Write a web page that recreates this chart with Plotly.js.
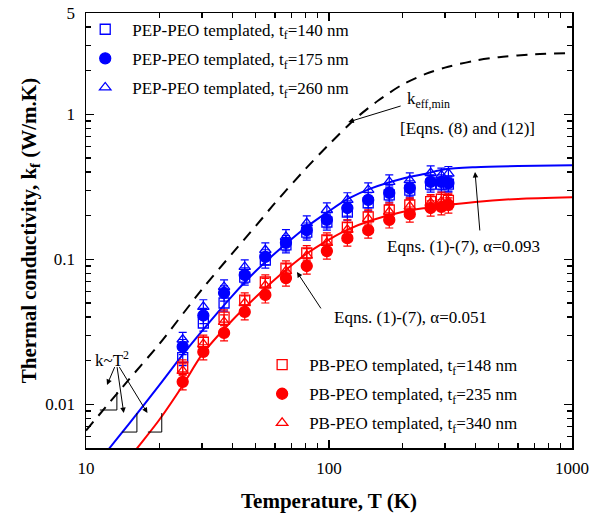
<!DOCTYPE html>
<html><head><meta charset="utf-8">
<script src="https://cdn.plot.ly/plotly-3.0.1.min.js"></script>
<style>html,body{margin:0;padding:0;background:#fff}#chart{width:612px;height:514px}</style>
</head><body><div id="chart"></div>
<script>
// ---- data ----
const T = [25, 30.4, 37, 45, 54.7, 66.5, 81, 98, 119, 145, 177, 215, 262, 290, 310];
const pep140 = [0.021, 0.0364, 0.050, 0.0755, 0.099, 0.126, 0.154, 0.181, 0.212, 0.245, 0.278, 0.30, 0.33, 0.33, 0.33];
const pep175 = [0.025, 0.041, 0.0586, 0.078, 0.104, 0.130, 0.159, 0.187, 0.226, 0.257, 0.287, 0.31, 0.342, 0.342, 0.336];
const pep260 = [0.028, 0.047, 0.0645, 0.0886, 0.116, 0.143, 0.178, 0.219, 0.257, 0.301, 0.342, 0.352, 0.394, 0.38, 0.39];
const pb148 = [0.0181, 0.0268, 0.040, 0.0524, 0.0698, 0.0871, 0.111, 0.136, 0.167, 0.196, 0.219, 0.237, 0.25, 0.26, 0.255];
const pb235 = [0.0143, 0.0230, 0.0311, 0.0434, 0.0568, 0.0743, 0.090, 0.114, 0.140, 0.159, 0.187, 0.205, 0.226, 0.230, 0.237];
const pb340 = [0.017, 0.026, 0.037, 0.050, 0.066, 0.083, 0.106, 0.13, 0.16, 0.19, 0.213, 0.232, 0.245, 0.25, 0.25];
const errPct = 12;

const fitT = [10, 12.5, 15, 20, 25, 30, 40, 50, 60, 80, 100, 120, 150, 200, 250, 300, 400, 600, 1000];
const fitBlue = [0.0031, 0.005, 0.0073, 0.0135, 0.022, 0.032, 0.056, 0.083, 0.110, 0.165, 0.215, 0.262, 0.31, 0.36, 0.39, 0.418, 0.432, 0.44, 0.445];
const fitRed = [0.0017, 0.0027, 0.0042, 0.0078, 0.0135, 0.022, 0.038, 0.055, 0.073, 0.108, 0.137, 0.161, 0.186, 0.212, 0.226, 0.236, 0.249, 0.261, 0.268];
const minT = [10, 15, 20, 30, 40, 50, 60, 80, 100, 130, 160, 200, 250, 300, 400, 500, 700, 1000];
const kMin = [0.0066, 0.0148, 0.026, 0.062, 0.11, 0.17, 0.245, 0.42, 0.62, 0.95, 1.25, 1.6, 1.9, 2.1, 2.35, 2.48, 2.6, 2.65];

const xTickVals = [10, 100, 1000];
const xTickText = ['10', '100', '1000'];
const yTickVals = [0.01, 0.1, 1, 5];
const yTickText = ['0.01', '0.1', '1', '5'];

const BLUE = 'rgb(0,0,255)', RED = 'rgb(255,0,0)';
const FONT = 'Liberation Serif, Times New Roman, serif';

function pts(name, y, color, symbol, legend, group) {
  return {
    x: T, y: y, type: 'scatter', mode: 'markers', name: name,
    legend: legend, legendgroup: group,
    marker: {color: color, symbol: symbol, size: symbol === 'circle' ? 11 : 10,
             line: {color: color, width: 1.3}},
    error_y: {type: 'percent', value: errPct, color: color, thickness: 1.2, width: 4},
    cliponaxis: true
  };
}

const traces = [
  {x: minT, y: kMin, type: 'scatter', mode: 'lines', showlegend: false,
   line: {color: 'black', width: 2, dash: '11px,8px', shape: 'spline', smoothing: 0.8}},
  {x: fitT, y: fitBlue, type: 'scatter', mode: 'lines', showlegend: false,
   line: {color: BLUE, width: 2, shape: 'spline', smoothing: 0.8}},
  {x: fitT, y: fitRed, type: 'scatter', mode: 'lines', showlegend: false,
   line: {color: RED, width: 2, shape: 'spline', smoothing: 0.8}},
  pts('PEP-PEO templated, t<sub>f</sub>=140 nm', pep140, BLUE, 'square-open', 'legend', 'a'),
  pts('PEP-PEO templated, t<sub>f</sub>=175 nm', pep175, BLUE, 'circle', 'legend', 'b'),
  pts('PEP-PEO templated, t<sub>f</sub>=260 nm', pep260, BLUE, 'triangle-up-open', 'legend', 'c'),
  pts('PB-PEO templated, t<sub>f</sub>=148 nm', pb148, RED, 'square-open', 'legend2', 'd'),
  pts('PB-PEO templated, t<sub>f</sub>=235 nm', pb235, RED, 'circle', 'legend2', 'e'),
  pts('PB-PEO templated, t<sub>f</sub>=340 nm', pb340, RED, 'triangle-up-open', 'legend2', 'f')
];

const L = Math.log10;
function arrow(xt, yt, xs, ys) {
  return {x: L(xt), y: L(yt), ax: L(xs), ay: L(ys), axref: 'x', ayref: 'y', xref: 'x', yref: 'y',
          text: '', showarrow: true, arrowhead: 2, arrowsize: 1.1, arrowwidth: 1, arrowcolor: 'black', standoff: 0};
}
function label(x, y, text, anchor) {
  return {x: L(x), y: L(y), xref: 'x', yref: 'y', text: text, showarrow: false,
          xanchor: anchor || 'left', yanchor: 'middle', font: {family: FONT, size: 17, color: 'black'}};
}
function seg(x0, y0, x1, y1) {
  return {type: 'line', xref: 'x', yref: 'y', x0: x0, y0: y0, x1: x1, y1: y1,
          line: {color: 'black', width: 1}};
}

const minorY = [0.006, 0.007, 0.008, 0.009, 0.02, 0.03, 0.04, 0.05, 0.06, 0.07, 0.08, 0.09,
                0.2, 0.3, 0.4, 0.5, 0.6, 0.7, 0.8, 0.9, 2, 3, 4];
const minorX = [20, 30, 40, 50, 60, 70, 80, 90, 200, 300, 400, 500, 600, 700, 800, 900];

const axisCommon = {
  type: 'log', showgrid: false, zeroline: false, showline: true, linecolor: 'black', linewidth: 1.5,
  mirror: 'ticks', ticks: 'inside', ticklen: 8, tickwidth: 1.3, tickcolor: 'black',
  tickfont: {family: FONT, size: 17, color: 'black'}, tickmode: 'array'
};

const layout = {
  width: 612, height: 514,
  margin: {l: 86, r: 40, t: 13, b: 66},
  paper_bgcolor: 'white', plot_bgcolor: 'white',
  font: {family: FONT, color: 'black'},
  xaxis: Object.assign({}, axisCommon, {
    range: [1, 3], tickvals: xTickVals, ticktext: xTickText, ticklabelstandoff: 4,
    minor: {tickmode: 'array', tickvals: minorX, ticks: 'inside', ticklen: 5, tickwidth: 1.2, tickcolor: 'black', showgrid: false},
    title: {text: '<b>Temperature, T (K)</b>', font: {family: FONT, size: 21, color: 'black'}, standoff: 16}
  }),
  yaxis: Object.assign({}, axisCommon, {
    range: [L(0.005), L(5)], tickvals: yTickVals, ticktext: yTickText, ticklabelstandoff: 6,
    minor: {tickmode: 'array', tickvals: minorY, ticks: 'inside', ticklen: 5, tickwidth: 1.2, tickcolor: 'black', showgrid: false},
    title: {text: '<b>Thermal conductivity, k<sub>f</sub> (W/m.K)</b>', font: {family: FONT, size: 21, color: 'black'}, standoff: 3}
  }),
  legend: {x: -0.016, y: 1.003, xanchor: 'left', yanchor: 'top', bgcolor: 'rgba(0,0,0,0)',
           font: {family: FONT, size: 17, color: 'black'}, itemwidth: 44, tracegroupgap: 4, traceorder: 'grouped'},
  legend2: {x: 0.348, y: 0.232, xanchor: 'left', yanchor: 'top', bgcolor: 'rgba(0,0,0,0)',
            font: {family: FONT, size: 17, color: 'black'}, itemwidth: 44, tracegroupgap: 4, traceorder: 'grouped'},
  annotations: [
    label(206, 1.26, 'k<sub>eff,min</sub>'),
    label(192, 0.805, '[Eqns. (8) and (12)]'),
    arrow(120, 0.885, 200, 1.15),
    label(170, 0.1217, 'Eqns. (1)-(7), α=0.093'),
    arrow(399, 0.40, 418, 0.1545),
    label(103, 0.040, 'Eqns. (1)-(7), α=0.051'),
    arrow(73.8, 0.0818, 93.5, 0.0448),
    label(12.8, 0.0205, 'k~T<sup>2</sup>', 'center'),
    arrow(12.2, 0.0136, 13.2, 0.0185),
    arrow(14.3, 0.0087, 13.4, 0.0185),
    arrow(17.9, 0.0087, 13.6, 0.0185)
  ],
  shapes: [
    seg(11.4, 0.00914, 13.4, 0.00914), seg(13.4, 0.00914, 13.4, 0.01217),
    seg(14.06, 0.00644, 16.2, 0.00644), seg(16.2, 0.00644, 16.2, 0.00871),
    seg(17.97, 0.00644, 20.5, 0.00644), seg(20.5, 0.00644, 20.5, 0.00871)
  ]
};

Plotly.newPlot('chart', traces, layout, {displayModeBar: false, staticPlot: true});
</script></body></html>
